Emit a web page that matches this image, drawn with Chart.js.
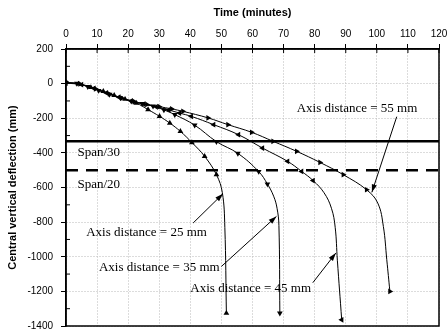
<!DOCTYPE html>
<html>
<head>
<meta charset="utf-8">
<script src="https://cdn.jsdelivr.net/npm/chart.js@4.4.0/dist/chart.umd.min.js"></script>
<style>
  html, body { margin: 0; padding: 0; background: #fff; }
</style>
</head>
<body>
<canvas id="myChart" width="447" height="332"></canvas>
<script>
// time (minutes) and central vertical deflection (mm), one pair per axis distance
var t25 = [0, 4, 8, 12, 15.5, 19, 22.6, 26.4, 30.1, 33.4, 36.8, 40.5, 44.6, 48.4, 50.3, 51.1, 51.6];
var d25 = [8, -2, -22, -45, -68, -90, -112, -150, -189, -228, -276, -340, -420, -526, -630, -830, -1326];

var t35 = [0, 3.5, 7, 10.5, 14, 17.5, 21, 24.5, 28, 31.5, 35, 41.4, 48.4, 55.3, 62, 64.8, 66.8, 67.9, 68.5, 68.8];
var d35 = [5, 1, -18, -40, -62, -82, -102, -116, -130, -152, -179, -240, -335, -403, -508, -580, -650, -720, -820, -1326];

var t45 = [0, 5, 9, 13, 17, 21, 25, 29, 33, 36.5, 40.3, 47.5, 55.5, 63.2, 71.3, 75.8, 79.5, 83, 85.4, 86.6, 87.3, 88.7];
var d45 = [3, -6, -28, -54, -78, -100, -118, -134, -152, -170, -189, -237, -295, -372, -449, -507, -560, -630, -720, -830, -1020, -1364];

var t55 = [0, 4.5, 9.5, 14, 18, 22, 26, 30, 34, 37.6, 45.7, 52.1, 59.7, 66.6, 74.2, 81.7, 89.2, 96.7, 100.3, 102.1, 103.2, 104.2];
var d55 = [6, -2, -30, -60, -84, -104, -120, -133, -146, -160, -198, -237, -281, -333, -391, -455, -526, -613, -690, -825, -1017, -1200];

// deflection limits
var span30 = -333;
var span20 = -500;

var xTicks = [0, 10, 20, 30, 40, 50, 60, 70, 80, 90, 100, 110, 120];
var yTicks = [200, 0, -200, -400, -600, -800, -1000, -1200, -1400];

var notes = [
  { text: 'Span/30', at: [3.7, -400] },
  { text: 'Span/20', at: [3.7, -585] },
  { text: 'Axis distance = 25 mm', at: [6.5, -860], from: [40.9, -805], to: [50.5, -636] },
  { text: 'Axis distance = 35 mm', at: [10.6, -1065], from: [50, -1056], to: [67.7, -767] },
  { text: 'Axis distance = 45 mm', at: [40, -1185], from: [79.4, -1150], to: [86.8, -979] },
  { text: 'Axis distance = 55 mm', at: [74.2, -145], from: [106.4, -191], to: [98.4, -628] }
];

function curve(label, ts, ds, rot) {
  return {
    label: label,
    data: ts.map(function (t, i) { return { x: t, y: ds[i] }; }),
    borderColor: '#000',
    borderWidth: 1,
    backgroundColor: '#000',
    pointBackgroundColor: '#000',
    pointBorderWidth: 0,
    pointStyle: 'triangle',
    pointRotation: rot,
    pointRadius: function (ctx) {
      if (!ctx.raw) return 0;
      return (ctx.raw.y < -620 && ctx.dataIndex < ds.length - 1) ? 0 : 3.3;
    },
    tension: 0.4
  };
}

function limit(value, dash) {
  return {
    label: 'limit',
    data: [{ x: 0, y: value }, { x: 120, y: value }],
    borderColor: '#000',
    borderWidth: 2.5,
    borderDash: dash,
    pointRadius: 0
  };
}

var frame = {
  id: 'frame',
  afterDatasetsDraw: function (chart) {
    var ctx = chart.ctx, a = chart.chartArea, x = chart.scales.x, y = chart.scales.y;
    ctx.save();
    ctx.strokeStyle = '#000';
    ctx.lineWidth = 1.5;
    ctx.strokeRect(a.left, a.top, a.right - a.left, a.bottom - a.top);

    // inner tick marks
    ctx.lineWidth = 1;
    xTicks.forEach(function (v) {
      var px = x.getPixelForValue(v);
      ctx.beginPath(); ctx.moveTo(px, a.top); ctx.lineTo(px, a.top + 4); ctx.stroke();
    });
    for (var v = 100; v > -1400; v -= 200) {
      var py = y.getPixelForValue(v);
      ctx.beginPath(); ctx.moveTo(a.left, py); ctx.lineTo(a.left + 4, py); ctx.stroke();
    }

    // labels and arrows
    ctx.font = '13px "Liberation Serif", "Times New Roman", serif';
    ctx.fillStyle = '#000';
    ctx.textBaseline = 'middle';
    ctx.textAlign = 'left';
    notes.forEach(function (n) {
      ctx.fillText(n.text, x.getPixelForValue(n.at[0]), y.getPixelForValue(n.at[1]));
      if (!n.from) return;
      var x1 = x.getPixelForValue(n.from[0]), y1 = y.getPixelForValue(n.from[1]);
      var x2 = x.getPixelForValue(n.to[0]), y2 = y.getPixelForValue(n.to[1]);
      var ang = Math.atan2(y2 - y1, x2 - x1);
      ctx.beginPath(); ctx.moveTo(x1, y1); ctx.lineTo(x2, y2); ctx.stroke();
      ctx.beginPath();
      ctx.moveTo(x2, y2);
      ctx.lineTo(x2 - 8 * Math.cos(ang) + 2.6 * Math.sin(ang), y2 - 8 * Math.sin(ang) - 2.6 * Math.cos(ang));
      ctx.lineTo(x2 - 8 * Math.cos(ang) - 2.6 * Math.sin(ang), y2 - 8 * Math.sin(ang) + 2.6 * Math.cos(ang));
      ctx.closePath();
      ctx.fill();
    });
    ctx.restore();
  }
};

var tickFont = { family: 'Arial, "Liberation Sans", sans-serif', size: 10 };
var titleFont = { family: 'Arial, "Liberation Sans", sans-serif', size: 11, weight: 'bold' };

function noOverflow(s) {
  s.paddingLeft = 0; s.paddingRight = 0; s.paddingTop = 0; s.paddingBottom = 0;
}

var myChart = new Chart(document.getElementById('myChart'), {
  type: 'line',
  data: {
    datasets: [
      curve('Axis distance = 25 mm', t25, d25, 0),
      curve('Axis distance = 35 mm', t35, d35, 180),
      curve('Axis distance = 45 mm', t45, d45, 270),
      curve('Axis distance = 55 mm', t55, d55, 90),
      limit(span30, []),
      limit(span20, [12, 8])
    ]
  },
  options: {
    responsive: false,
    animation: false,
    layout: { padding: { right: 8, bottom: 6, top: 0, left: 0 } },
    plugins: { legend: { display: false }, tooltip: { enabled: false } },
    scales: {
      x: {
        type: 'linear',
        position: 'top',
        min: 0, max: 120,
        afterBuildTicks: function (s) { s.ticks = xTicks.map(function (v) { return { value: v }; }); },
        afterFit: function (s) { s.height = 49; noOverflow(s); },
        ticks: { color: '#000', font: tickFont, padding: 4, maxRotation: 0, autoSkip: false,
                 callback: function (v) { return String(v); } },
        grid: { color: '#b8b8b8', tickColor: '#000', tickLength: 5, lineWidth: 1 },
        border: { color: '#000', width: 1.5, dash: [1, 2] },
        title: { display: true, text: 'Time (minutes)', color: '#000', font: titleFont, padding: { top: 6, bottom: 0 } }
      },
      y: {
        type: 'linear',
        min: -1400, max: 200,
        afterBuildTicks: function (s) { s.ticks = yTicks.map(function (v) { return { value: v }; }); },
        afterFit: function (s) { s.width = 66; noOverflow(s); },
        ticks: { color: '#000', font: tickFont, padding: 8, autoSkip: false,
                 callback: function (v) { return String(v); } },
        grid: { color: '#b8b8b8', tickColor: '#000', tickLength: 5, lineWidth: 1 },
        border: { color: '#000', width: 1.5, dash: [1, 2] },
        title: { display: true, text: 'Central vertical deflection (mm)', color: '#000', font: titleFont, padding: { top: 6, bottom: 0 } }
      }
    }
  },
  plugins: [frame]
});
</script>
</body>
</html>
